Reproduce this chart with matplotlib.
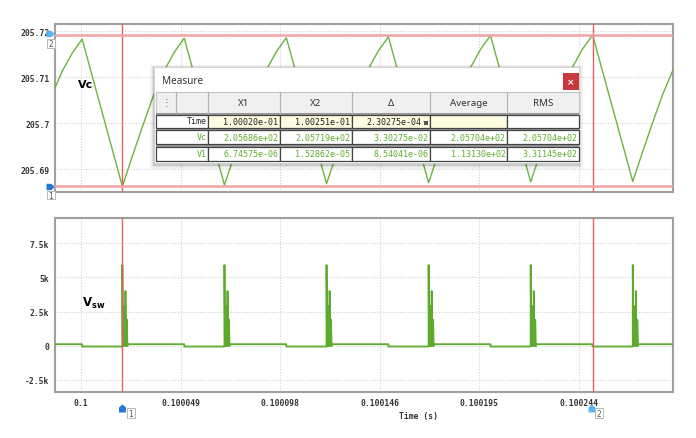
import matplotlib
matplotlib.use("Agg")
import matplotlib.pyplot as plt
from matplotlib.patches import Rectangle, Polygon, Arc

# ---- data ----
T0 = 0.1                      # times below are in microseconds after 0.1 s
x1_us, x2_us = 20.3, 250.6    # cursor positions
vc_x1, vc_x2 = 205.6862, 205.7192

# Vc ripple: troughs / peaks of each switching period
trough_us = [-29.7, 20.3, 70.3, 120.3, 170.3, 220.3, 270.3]
trough_v  = [205.6862, 205.6862, 205.6865, 205.6868, 205.6870, 205.6872, 205.6873]
peak_us   = [0.6, 50.6, 100.6, 150.6, 200.6, 250.6, 300.6]
peak_v    = [205.7183, 205.7185, 205.7186, 205.7188, 205.7191, 205.7192, 205.7194]
# shape of the (curved) rising part, as fraction of time / height
rise_ft = [0, 0.161, 0.323, 0.484, 0.677, 0.839, 1.0]
rise_fv = [0, 0.204, 0.401, 0.592, 0.782, 0.905, 1.0]

# Vsw: two levels plus a ringing spike at each turn-on
vsw_high, vsw_low = 110, -60
spike_dt = [0.0, 0.0, 0.25, 0.9, 0.9, 1.15, 1.5, 1.5, 1.75, 2.2, 2.2, 2.45, 2.6, 2.6]
spike_v  = [-60, 5900, 0, 0, 2900, 0, 0, 4000, 0, 0, 1900, 0, 0, 110]

xtick_us    = [0, 48.8, 97.6, 146.4, 195.2, 244.0]
xtick_lbl   = ["0.1", "0.100049", "0.100098", "0.100146", "0.100195", "0.100244"]
vc_ticks    = [205.69, 205.7, 205.71, 205.72]
vc_tick_lbl = ["205.69", "205.7", "205.71", "205.72"]
vsw_ticks   = [-2500, 0, 2500, 5000, 7500]
vsw_tick_lbl = ["-2.5k", "0", "2.5k", "5k", "7.5k"]

# measure window contents
col_names = ["X1", "X2", "\u0394", "Average", "RMS"]
row_names = ["Time", "Vc", "V1"]
cells = [
    ["1.00020e-01", "1.00251e-01", "2.30275e-04", "", ""],
    ["2.05686e+02", "2.05719e+02", "3.30275e-02", "2.05704e+02", "2.05704e+02"],
    ["6.74575e-06", "1.52862e-05", "8.54041e-06", "1.13130e+02", "3.31145e+02"],
]

def t(us):
    return T0 + us * 1e-6

# build the traces from the period points
vc_t, vc_v = [], []
for i in range(len(trough_us)):
    for ft, fv in zip(rise_ft, rise_fv):
        vc_t.append(t(trough_us[i] + ft * (peak_us[i] - trough_us[i])))
        vc_v.append(trough_v[i] + fv * (peak_v[i] - trough_v[i]))

sw_t, sw_v = [t(trough_us[0] + spike_dt[-1])], [vsw_high]
for k in range(len(trough_us) - 1):
    sw_t += [t(peak_us[k]), t(peak_us[k])]
    sw_v += [vsw_high, vsw_low]
    for dt, v in zip(spike_dt, spike_v):
        sw_t.append(t(trough_us[k + 1] + dt))
        sw_v.append(v)
sw_t.append(t(peak_us[-1])); sw_v.append(vsw_high)

GREEN = "#6cb33f"
RED = "#ea5f5f"
PINK = "#f3a3a3"
MONO = "DejaVu Sans Mono"

fig = plt.figure(figsize=(6.96, 4.39), dpi=100)
W, H = 696, 439
ax1 = fig.add_axes([55 / W, 1 - 193 / H, 618 / W, 168 / H])
ax2 = fig.add_axes([55 / W, 1 - 393 / H, 618 / W, 174 / H])

xlim = (t(-12.7), t(290.0))
for ax in (ax1, ax2):
    ax.set_xlim(*xlim)
    ax.set_xticks([t(u) for u in xtick_us])
    ax.grid(True, color="#d2d2d2", linestyle=(0, (1, 1.5)), lw=0.8)
    ax.tick_params(length=0, labelsize=5.8, labelcolor="#333333", pad=4)
    for s in ax.spines.values():
        s.set_color("#a0a0a0"); s.set_linewidth(1.5)
    for lb in ax.get_xticklabels() + ax.get_yticklabels():
        lb.set_family(MONO); lb.set_weight("bold")
    ax.axvline(t(x1_us), color=RED, lw=1.0, zorder=4)
    ax.axvline(t(x2_us), color=RED, lw=1.0, zorder=4)

ax1.set_xticklabels([])
ax2.set_xticklabels(xtick_lbl, family=MONO, weight="bold")

ax1.plot(vc_t, vc_v, color=GREEN, lw=1.0, zorder=3)
ax1.set_ylim(205.68499, 205.72159)
ax1.set_yticks(vc_ticks)
ax1.set_yticklabels(vc_tick_lbl, family=MONO, weight="bold")
ax1.axhline(vc_x2, color=PINK, lw=1.8, zorder=4)
ax1.axhline(vc_x1, color=PINK, lw=1.8, zorder=4)
ax1.text(t(-1.5), 205.7085, "Vc", fontsize=8, weight="bold", ha="left", va="center")

ax2.plot(sw_t, sw_v, color="#5daa2c", lw=1.3, zorder=3)
ax2.set_ylim(-3386, 9340)
ax2.set_yticks(vsw_ticks)
ax2.set_yticklabels(vsw_tick_lbl, family=MONO, weight="bold")
ax2.text(t(0.5), 3200, r"$\mathbf{V_{sw}}$", fontsize=8.5, ha="left", va="center")
ax2.set_xlabel("Time (s)", family=MONO, weight="bold", fontsize=5.8,
               color="#333333", labelpad=5)
ax2.xaxis.set_label_coords(363 / 618, -19 / 174)

# ---- overlay in pixel coordinates: cursor tabs and the Measure window ----
ov = fig.add_axes([0, 0, 1, 1], zorder=10)
ov.set_xlim(0, W); ov.set_ylim(H, 0); ov.axis("off")

def tab_right(x0, y0, c):
    ov.add_patch(Polygon([(x0, y0), (x0 + 5, y0), (x0 + 8, y0 + 3.2), (x0 + 5, y0 + 6.4),
                          (x0, y0 + 6.4)], closed=True, fc=c, ec="none"))

def tab_up(x0, y0, c):
    ov.add_patch(Polygon([(x0, y0 + 8), (x0, y0 + 3), (x0 + 3.5, y0), (x0 + 7, y0 + 3),
                          (x0 + 7, y0 + 8)], closed=True, fc=c, ec="none"))

def tag(x0, y0, w, h, s):
    ov.add_patch(Rectangle((x0, y0), w, h, fc="white", ec="#b8b8b8", lw=0.7))
    ov.text(x0 + w / 2, y0 + h / 2 + 0.5, s, fontsize=5.5, color="#555555",
            ha="center", va="center", family=MONO)

tab_right(46.5, 31.8, "#5ab6f2"); tag(46.5, 39.5, 8, 9, "2")
tab_right(46.5, 184.8, "#2479d0"); tag(46.5, 192, 8, 8, "1")
tab_up(119, 405.5, "#2479d0"); tag(127, 409, 7.5, 10, "1")
tab_up(588.5, 405.5, "#5ab6f2"); tag(595, 409, 8, 10, "2")

# window + shadow
wx0, wy0, wx1, wy1 = 154, 68, 578.5, 164
for g, a in [(4, 0.05), (2.5, 0.07), (1.2, 0.1)]:
    ov.add_patch(Rectangle((wx0 - g, wy0 - g + 1.5), wx1 - wx0 + 2 * g, wy1 - wy0 + 2 * g,
                           fc="#000000", ec="none", alpha=a))
ov.add_patch(Rectangle((wx0, wy0), wx1 - wx0, wy1 - wy0, fc="white", ec="#d0d0d0", lw=0.6))
ov.text(162, 82, "Measure", fontsize=7.2, color="#333333", ha="left", va="center",
        family="Noto Sans")
ov.add_patch(Rectangle((563, 74), 15.5, 17, fc="#c9393b", ec="none"))
ov.text(570.7, 82.5, "\u00d7", fontsize=6.5, color="white", ha="center", va="center",
        weight="bold")

cols = [156, 176, 208, 280, 352, 430, 507, 578.5]
hy0, hy1 = 93, 114
ov.add_patch(Rectangle((cols[0], hy0), cols[-1] - cols[0], hy1 - hy0, fc="#f0f0f0",
                       ec="#c4c4c4", lw=0.8))
for cx in cols[1:-1]:
    ov.plot([cx, cx], [hy0, hy1], color="#b4b4b4", lw=0.9)
ov.text(166, 103.5, "\u22ee", fontsize=7, color="#a0608e", ha="center", va="center")
for j, name in enumerate(col_names):
    ov.text((cols[j + 2] + cols[j + 3]) / 2, 104, name, fontsize=7, color="#333333",
            ha="center", va="center", family="Noto Sans")

ov.add_patch(Rectangle((cols[0], 114), cols[-1] - cols[0], 48.5, fc="#9a9a9a", ec="none"))
rows = [(115.5, 128.5), (131, 145), (147.5, 161.5)]
for i, (ry0, ry1) in enumerate(rows):
    txt_c = "#222222" if i == 0 else "#5fae2e"
    ov.add_patch(Rectangle((cols[0], ry0), cols[2] - cols[0], ry1 - ry0, fc="white",
                           ec="#444444", lw=0.9))
    ov.text(cols[2] - 1.5, (ry0 + ry1) / 2, row_names[i], fontsize=6, color=txt_c,
            ha="right", va="center", family=MONO)
    for j in range(5):
        fc = "#fdfbe0" if (i == 0 and j < 4) else "white"
        ov.add_patch(Rectangle((cols[j + 2], ry0), cols[j + 3] - cols[j + 2], ry1 - ry0,
                               fc=fc, ec="#444444", lw=0.9))
        pad = 9 if (i == 0 and j == 2) else 1.5
        ov.text(cols[j + 3] - pad, (ry0 + ry1) / 2 + 0.3, cells[i][j], fontsize=6,
                color=txt_c, ha="right", va="center", family=MONO)

# little lock icon next to the time delta
ov.add_patch(Rectangle((423.5, 122), 4.5, 3.5, fc="#555555", ec="none"))
ov.add_patch(Arc((425.75, 122), 3, 4, theta1=0, theta2=180, color="#555555", lw=0.9))

fig.savefig("out.png", dpi=100)
